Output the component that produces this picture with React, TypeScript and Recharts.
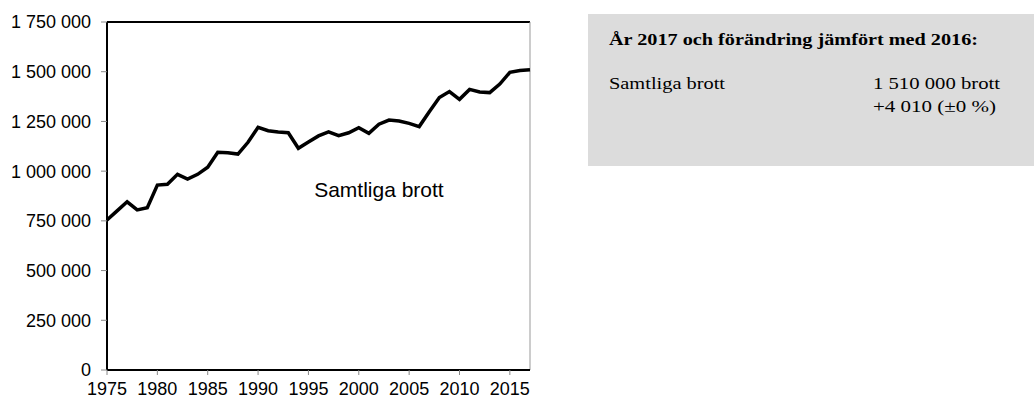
import React from "react";
import {
  LineChart,
  Line,
  XAxis,
  YAxis,
  ReferenceLine,
  ReferenceDot,
} from "recharts";

const years = [
  1975, 1976, 1977, 1978, 1979, 1980, 1981, 1982, 1983, 1984, 1985, 1986,
  1987, 1988, 1989, 1990, 1991, 1992, 1993, 1994, 1995, 1996, 1997, 1998,
  1999, 2000, 2001, 2002, 2003, 2004, 2005, 2006, 2007, 2008, 2009, 2010,
  2011, 2012, 2013, 2014, 2015, 2016, 2017,
];

const crimes = [
  754000, 800000, 846000, 805000, 816000, 930000, 934000, 984000, 960000,
  984000, 1020000, 1095000, 1093000, 1086000, 1145000, 1220000, 1203000,
  1197000, 1193000, 1115000, 1146000, 1177000, 1197000, 1178000, 1193000,
  1218000, 1190000, 1236000, 1257000, 1252000, 1240000, 1224000, 1299000,
  1370000, 1400000, 1361000, 1411000, 1398000, 1395000, 1438000, 1497000,
  1506000, 1510000,
];

const yTicks = [0, 250000, 500000, 750000, 1000000, 1250000, 1500000, 1750000];
const xTicks = [1975, 1980, 1985, 1990, 1995, 2000, 2005, 2010, 2015];

const seriesLabel = "Samtliga brott";
const boxTitle = "År 2017 och förändring jämfört med 2016:";
const boxRowLabel = "Samtliga brott";
const boxValue = "1 510 000 brott";
const boxChange = "+4 010 (±0 %)";

function formatThousands(v: number) {
  return String(v).replace(/\B(?=(\d{3})+(?!\d))/g, " ");
}

const tickStyle = {
  fontSize: 18,
  fill: "#000",
  fontFamily: "'Liberation Sans', Arial, sans-serif",
};

export default function App() {
  const data = years.map((year, i) => ({ year, value: crimes[i] }));

  return (
    <div
      style={{
        position: "absolute",
        left: 0,
        top: 0,
        width: 1034,
        height: 400,
        background: "#fff",
      }}
    >
      <LineChart
        width={560}
        height={400}
        data={data}
        margin={{ top: 22, right: 30, bottom: 0, left: 0 }}
      >
        <XAxis
          dataKey="year"
          type="number"
          domain={[1975, 2017]}
          ticks={xTicks}
          interval={0}
          height={30}
          tick={tickStyle}
          tickSize={5}
          tickMargin={7}
          axisLine={{ stroke: "#000", strokeWidth: 2 }}
          tickLine={{ stroke: "#888" }}
        />
        <YAxis
          type="number"
          domain={[0, 1750000]}
          ticks={yTicks}
          interval={0}
          width={107}
          tick={tickStyle}
          tickSize={6}
          tickMargin={10}
          tickFormatter={formatThousands}
          axisLine={{ stroke: "#000", strokeWidth: 2 }}
          tickLine={{ stroke: "#888" }}
        />
        <ReferenceLine y={1750000} stroke="#000" strokeWidth={2} />
        <ReferenceLine x={2017} stroke="#999" strokeWidth={1} />
        <Line
          type="linear"
          dataKey="value"
          stroke="#000"
          strokeWidth={3.5}
          dot={false}
          activeDot={false}
          isAnimationActive={false}
        />
        <ReferenceDot
          x={2002}
          y={905000}
          r={0}
          fill="none"
          stroke="none"
          label={{
            value: seriesLabel,
            position: "center",
            fontSize: 21,
            fill: "#000",
            fontFamily: "'Liberation Sans', Arial, sans-serif",
          }}
        />
      </LineChart>

      <div
        style={{
          position: "absolute",
          left: 588,
          top: 14,
          width: 446,
          height: 152,
          background: "#dcdcdc",
        }}
      >
        <svg width={446} height={152} style={{ display: "block" }}>
          <g fontFamily="'Liberation Serif', 'Times New Roman', serif" fill="#000">
            <text
              x={21}
              y={31}
              fontSize={16}
              fontWeight="bold"
              textLength={369}
              lengthAdjust="spacingAndGlyphs"
            >
              {boxTitle}
            </text>
            <text
              x={21}
              y={75}
              fontSize={16}
              textLength={116}
              lengthAdjust="spacingAndGlyphs"
            >
              {boxRowLabel}
            </text>
            <text
              x={285}
              y={75}
              fontSize={16}
              textLength={127}
              lengthAdjust="spacingAndGlyphs"
            >
              {boxValue}
            </text>
            <text
              x={285}
              y={97.5}
              fontSize={16}
              textLength={123}
              lengthAdjust="spacingAndGlyphs"
            >
              {boxChange}
            </text>
          </g>
        </svg>
      </div>
    </div>
  );
}
